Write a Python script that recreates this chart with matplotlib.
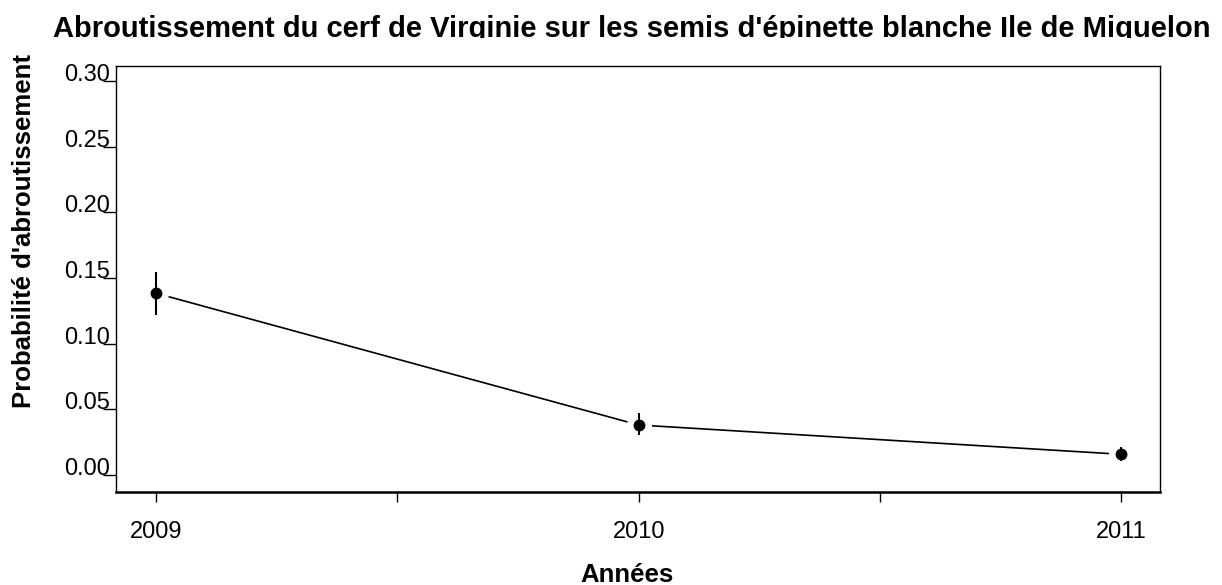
import matplotlib
matplotlib.use("Agg")
import matplotlib.pyplot as plt
from matplotlib.transforms import Bbox

plt.rcParams['font.family'] = ['Liberation Sans', 'DejaVu Sans']

years = [2009, 2010, 2011]
prob = [0.1384, 0.0381, 0.0158]
err_low = [0.1219, 0.0305, 0.0109]
err_high = [0.1548, 0.0472, 0.0216]
yticks = [0.00, 0.05, 0.10, 0.15, 0.20, 0.25, 0.30]
ytick_labels = ["0.00", "0.05", "0.10", "0.15", "0.20", "0.25", "0.30"]
xticks_major = [2009, 2010, 2011]
xticks_minor = [2009.5, 2010.5]
title = "Abroutissement du cerf de Virginie sur les semis d'épinette blanche Ile de Miquelon"
xlabel = "Années"
ylabel = "Probabilité d'abroutissement"

W, H = 1222, 585
fig = plt.figure(figsize=(W / 100, H / 100), dpi=100)
ax = fig.add_axes([116 / W, 1 - 492 / H, (1160 - 116) / W, (492 - 66) / H])

ax.plot(years, prob, color='black', lw=1.2, zorder=1)
ax.plot(years, prob, ls='none', marker='o', ms=17, mfc='white', mec='white', zorder=2)
yerr = [[p - l for p, l in zip(prob, err_low)], [h - p for p, h in zip(prob, err_high)]]
ax.errorbar(years, prob, yerr=yerr, fmt='none', ecolor='black', elinewidth=1.5, capsize=0, zorder=3)
ax.plot(years, prob, ls='none', marker='o', ms=7.5, mfc='black', mec='black', zorder=4)

ax.set_xlim(2008.917, 2011.08)
ax.set_ylim(-0.0129, 0.3114)

ax.set_yticks(yticks)
ax.set_yticklabels(ytick_labels, fontsize=17)
for lab in ax.get_yticklabels():
    lab.set_va('baseline')
ax.tick_params(axis='y', length=9.4, width=1.0, pad=-5, direction='out')

ax.set_xticks(xticks_major)
ax.set_xticklabels([str(y) for y in xticks_major], fontsize=17)
ax.set_xticks(xticks_minor, minor=True)
ax.tick_params(axis='x', which='both', length=7.2, width=1.0, pad=14, direction='out')

for side in ['left', 'top', 'right']:
    ax.spines[side].set_linewidth(1.0)
ax.spines['bottom'].set_linewidth(1.8)

fig.text(627 / W, 1 - 575 / H, xlabel, ha='center', va='center', fontsize=18.5, fontweight='bold')
fig.text(24 / W, 1 - 231 / H, ylabel, ha='center', va='center', rotation=90, fontsize=18.5, fontweight='bold')

t = fig.text(53 / W, 1 - 37 / H, title, ha='left', va='baseline', fontsize=21, fontweight='bold')
t.set_clip_box(Bbox([[0, H - 38], [W, H]]))
t.set_clip_on(True)

fig.savefig("out.png", dpi=100)
